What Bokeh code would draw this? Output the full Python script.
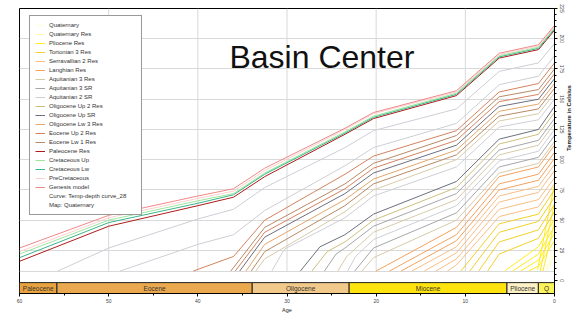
import math
from bokeh.plotting import figure
from bokeh.models import FixedTicker, Legend, LegendItem, Label
from bokeh.embed import file_html
from bokeh.resources import INLINE
from bokeh.core.properties import value

FONT = "Liberation Sans"

# ---- geological time band ----
EPOCH_NAMES = ["Paleocene", "Eocene", "Oligocene", "Miocene", "Pliocene", "Q"]
EPOCH_START = [60.0, 55.8, 33.9, 23.03, 5.33, 1.81]
EPOCH_END = [55.8, 33.9, 23.03, 5.33, 1.81, 0.0]
EPOCH_COLORS = ["#E8A23F", "#EBA94F", "#F1C98A", "#FFE30F", "#FEF1C6", "#FCF35B"]

AGE_TICKS = [60, 50, 40, 30, 20, 10, 0]
AGE_MINOR = [55, 45, 35, 25, 15, 5]
TEMP_TICKS = [0, 25, 50, 75, 100, 125, 150, 175, 200, 225]
TEMP_MINOR = [t for t in range(0, 226, 5)]
GRID_TEMPS = [8, 25, 50, 75, 100, 125, 150, 175, 200]
GRID_AGES = [50, 40, 30, 20, 10]
SURFACE_TEMP = 8
TOP_TEMP = 225

# ---- temperature histories (age in Ma, temperature in C) ----
quaternary = [([1.0, 0], [8, 30])]
quaternary_res = [([0.8, 0], [8, 22])]
pliocene_res = [
    ([5.6, 1.8, 0], [8, 28, 51]),
    ([4.7, 1.8, 0], [8, 22, 45]),
    ([3.8, 1.8, 0], [8, 17, 39]),
    ([2.9, 1.8, 0], [8, 12, 33]),
    ([1.9, 0], [9, 80]),
    ([1.6, 0], [8, 64]),
    ([1.3, 0], [8, 48]),
]
tortonian_3_res = [
    ([10.5, 6.2, 1.8, 0], [8, 47, 55, 75]),
    ([9.5, 6.2, 1.8, 0], [8, 40, 49, 69]),
    ([8.5, 6.2, 1.8, 0], [8, 32, 42, 63]),
    ([7.5, 6.2, 1.8, 0], [8, 22, 35, 57]),
]
serravallian_2_res = [
    ([16.0, 11, 6.2, 1.8, 0], [8, 28, 70, 78, 96]),
    ([14.6, 11, 6.2, 1.8, 0], [8, 23, 65, 73, 91]),
    ([13.3, 11, 6.2, 1.8, 0], [8, 18, 59, 67, 85]),
    ([12.0, 11, 6.2, 1.8, 0], [8, 13, 53, 61, 80]),
]
langhian_res = [
    ([20.0, 11, 6.2, 1.8, 0], [8, 44, 86, 94, 112]),
    ([18.5, 11, 6.2, 1.8, 0], [8, 38, 80, 88, 106]),
    ([17.2, 11, 6.2, 1.8, 0], [8, 33, 75, 83, 101]),
]
aquitanian_3_res = [
    ([33.5, 32.5, 23.5, 20.3, 11, 6.2, 1.8, 0], [8, 18, 57, 75, 100, 132, 138, 155]),
    ([24.3, 23.3, 20.3, 11, 6.2, 1.8, 0], [8, 20, 40, 67, 104, 112, 130]),
    ([21.6, 20.3, 11, 6.2, 1.8, 0], [8, 19, 50, 89, 97, 115]),
]
aquitanian_3_sr = [
    ([25.8, 24.5, 23.5, 20.3, 11, 6.2, 1.8, 0], [8, 22, 27, 45, 72, 108, 116, 134]),
    ([22.4, 20.3, 11, 6.2, 1.8, 0], [8, 27, 56, 94, 102, 120]),
]
aquitanian_2_sr = [
    ([55.7, 50, 40, 36, 32.5, 23.5, 20.3, 11, 6.2, 1.8, 0], [8, 27, 51, 59, 77, 110, 124, 142, 173, 180, 196]),
    ([48.7, 40, 36, 32.5, 23.5, 20.3, 11, 6.2, 1.8, 0], [8, 30, 38, 58, 95, 110, 130, 162, 169, 186]),
    ([31.7, 30.3, 23.5, 20.3, 11, 6.2, 1.8, 0], [8, 26, 52, 70, 94, 127, 133, 150]),
    ([23.2, 22.3, 20.3, 11, 6.2, 1.8, 0], [8, 20, 34, 62, 99, 107, 125]),
]
oligocene_up_2_res = [
    ([27.2, 25.5, 23.5, 20.3, 11, 6.2, 1.8, 0], [8, 24, 32, 50, 77, 113, 121, 139]),
]
oligocene_up_sr = [
    ([35.3, 32.5, 23.5, 20.3, 11, 6.2, 1.8, 0], [8, 36, 72, 89, 112, 144, 150, 167]),
    ([28.5, 26.3, 23.5, 20.3, 11, 6.2, 1.8, 0], [8, 28, 38, 55, 82, 117, 125, 144]),
]
oligocene_lw_3_res = [
    ([34.6, 32.5, 23.5, 20.3, 11, 6.2, 1.8, 0], [8, 30, 67, 84, 108, 140, 146, 163]),
]
eocene_up_2_res = [
    ([40.5, 36, 32.5, 23.5, 20.3, 11, 6.2, 1.8, 0], [8, 20, 50, 88, 103, 124, 156, 163, 180]),
    ([35.8, 32.5, 23.5, 20.3, 11, 6.2, 1.8, 0], [8, 40, 76, 93, 116, 148, 154, 171]),
]
eocene_lw_1_res = [
    ([36.3, 32.5, 23.5, 20.3, 11, 6.2, 1.8, 0], [8, 44, 80, 97, 120, 152, 158, 175]),
    ([34.0, 32.5, 23.5, 20.3, 11, 6.2, 1.8, 0], [8, 24, 62, 80, 104, 136, 142, 159]),
]
FULL_AGES = [60, 50, 40, 36, 32.5, 23.5, 20.3, 11, 6.2, 1.8, 0]
paleocene_res = [(FULL_AGES, [16, 45, 62, 69, 86, 121, 134, 153, 184, 191, 207])]
cretaceous_up = [(FULL_AGES, [22, 50, 66, 72, 89, 123, 136, 155, 186, 193, 209])]
cretaceous_lw = [(FULL_AGES, [19, 48, 64, 71, 88, 122, 135, 154, 185, 192, 208])]
precretaceous = [(FULL_AGES, [24, 52, 68, 74, 91, 125, 138, 156, 187, 194, 210])]
genesis_model = [(FULL_AGES, [27, 54, 70, 76, 93, 126, 139, 157, 188, 195, 211])]

SERIES = [
    ("Quaternary", "#FFFFD6", quaternary),
    ("Quaternary Res", "#FFFFAE", quaternary_res),
    ("Pliocene Res", "#FFEC1C", pliocene_res),
    ("Tortonian 3 Res", "#F3D02A", tortonian_3_res),
    ("Serravallian 2 Res", "#F8BE86", serravallian_2_res),
    ("Langhian Res", "#F3A25E", langhian_res),
    ("Aquitanian 3 Res", "#D6CBA8", aquitanian_3_res),
    ("Aquitanian 3 SR", "#A6A6AA", aquitanian_3_sr),
    ("Aquitanian 2 SR", "#CDCFD6", aquitanian_2_sr),
    ("Oligocene Up 2 Res", "#CDBF7F", oligocene_up_2_res),
    ("Oligocene Up SR", "#6C707E", oligocene_up_sr),
    ("Oligocene Lw 3 Res", "#E3A66B", oligocene_lw_3_res),
    ("Eocene Up 2 Res", "#D4835E", eocene_up_2_res),
    ("Eocene Lw 1 Res", "#B88A66", eocene_lw_1_res),
    ("Paleocene Res", "#B01A1A", paleocene_res),
    ("Cretaceous Up", "#9BE89B", cretaceous_up),
    ("Cretaceous Lw", "#3CB38A", cretaceous_lw),
    ("PreCretaceous", "#FFD0D0", precretaceous),
    ("Genesis model", "#F08888", genesis_model),
]
EXTRA_LABELS = ["Curve: Temp-depth curve_28", "Map: Quaternary"]

p = figure(width=578, height=315, x_range=(60, 0), y_range=(-10.6, 225),
           output_backend="svg", toolbar_location=None, y_axis_location="right",
           min_border_left=19, min_border_top=8, min_border_right=24, min_border_bottom=18)
p.outline_line_color = "black"
p.outline_line_width = 1
p.background_fill_color = "white"
p.border_fill_color = "white"

p.xgrid.visible = False
p.ygrid.ticker = FixedTicker(ticks=GRID_TEMPS)
p.ygrid.grid_line_color = "#D9D9D9"
p.segment(x0=GRID_AGES, y0=[SURFACE_TEMP] * len(GRID_AGES), x1=GRID_AGES,
          y1=[TOP_TEMP] * len(GRID_AGES), line_color="#D9D9D9", line_width=1)

# epoch band
p.quad(left=EPOCH_START, right=EPOCH_END, top=-1.6, bottom=-10.6,
       fill_color=EPOCH_COLORS, line_color="#222222", line_width=1)
mids = [(a + b) / 2 for a, b in zip(EPOCH_START, EPOCH_END)]
p.text(x=mids, y=[-6.1] * len(mids), text=EPOCH_NAMES, text_align="center",
       text_baseline="middle", text_font_size="6.5px", text_font=value(FONT),
       text_color="#333333")

items = []
for name, color, lines in SERIES:
    xs = [l[0] for l in lines]
    ys = [l[1] for l in lines]
    r = p.multi_line(xs=xs, ys=ys, line_color=color, line_width=1)
    items.append(LegendItem(label=name, renderers=[r]))
for name in EXTRA_LABELS:
    r = p.line(x=[], y=[], line_alpha=0)
    items.append(LegendItem(label=name, renderers=[r]))

legend = Legend(items=items, location=(10, 78))
legend.label_text_font = FONT
legend.label_text_font_size = "6px"
legend.label_text_color = "#333333"
legend.glyph_width = 10
legend.glyph_height = 8
legend.label_height = 8
legend.label_width = 87
legend.label_standoff = 4
legend.spacing = 1
legend.padding = 5
legend.margin = 0
legend.border_line_color = "#333333"
legend.border_line_width = 1
legend.background_fill_alpha = 1
p.add_layout(legend)

title = Label(x=26.08, y=185, text="Basin Center", text_align="center",
              text_baseline="alphabetic", text_font_size="32px", text_font=FONT,
              text_color="#111111")
p.add_layout(title)

xa = p.xaxis[0]
xa.ticker = FixedTicker(ticks=AGE_TICKS, minor_ticks=AGE_MINOR)
xa.axis_label = "Age"
xa.axis_label_text_font = FONT
xa.axis_label_text_font_size = "5.5px"
xa.axis_label_text_font_style = "normal"
xa.axis_label_text_color = "#222222"
xa.axis_label_standoff = 1
xa.major_label_text_font = FONT
xa.major_label_text_font_size = "5px"
xa.major_label_standoff = 2
xa.major_tick_out = 3
xa.major_tick_in = 0
xa.minor_tick_out = 2
xa.minor_tick_in = 0
xa.axis_line_color = "black"

ya = p.yaxis[0]
ya.ticker = FixedTicker(ticks=TEMP_TICKS, minor_ticks=TEMP_MINOR)
ya.axis_label = "Temperature in Celsius"
ya.axis_label_text_font = FONT
ya.axis_label_text_font_size = "6px"
ya.axis_label_text_font_style = "bold"
ya.axis_label_text_color = "#222222"
ya.axis_label_standoff = 2
if hasattr(ya, "axis_label_orientation"):
    ya.axis_label_orientation = math.pi / 2
ya.major_label_text_font = FONT
ya.major_label_text_font_size = "5px"
ya.major_label_orientation = "vertical"
ya.major_label_standoff = 2
ya.major_tick_out = 3
ya.major_tick_in = 0
ya.minor_tick_out = 2
ya.minor_tick_in = 0
ya.axis_line_color = "black"

open("out.html", "w").write(file_html(p, INLINE))
